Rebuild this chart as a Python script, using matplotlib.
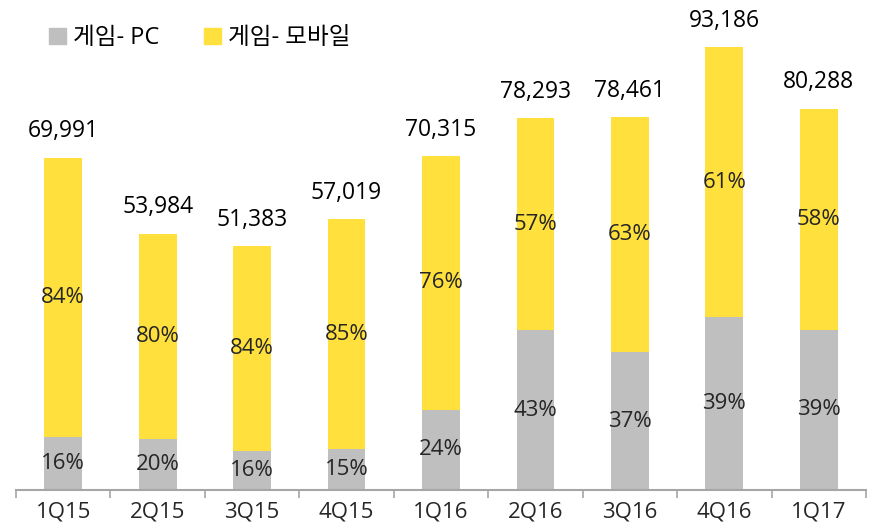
import matplotlib
matplotlib.use('Agg')
import matplotlib.pyplot as plt
import numpy as np
from matplotlib.patches import Patch

plt.rcParams['font.family'] = ['Open Sans', 'Noto Sans CJK KR', 'DejaVu Sans']

quarters = ['1Q15', '2Q15', '3Q15', '4Q15', '1Q16', '2Q16', '3Q16', '4Q16', '1Q17']
totals = [69991, 53984, 51383, 57019, 70315, 78293, 78461, 93186, 80288]
# PC values
pc_values = [11200, 10800, 8200, 8550, 16900, 33650, 29050, 36350, 33700]
pc_share = [16, 20, 16, 15, 24, 43, 37, 39, 39]
mobile_share = [84, 80, 84, 85, 76, 57, 63, 61, 58]

grey = '#BFBFBF'
yellow = '#FFE03C'

totals_arr = np.array(totals, dtype=float)
pc_vals = np.array(pc_values, dtype=float)
mobile_vals = totals_arr - pc_vals

fig = plt.figure(figsize=(8.79, 5.29), dpi=100)
ax = fig.add_axes([16 / 879, 39 / 529, 850 / 879, 475 / 529])

x = np.arange(len(quarters))
w = 0.4
ax.bar(x, pc_vals, w, color=grey)
ax.bar(x, mobile_vals, w, bottom=pc_vals, color=yellow)

for i in range(len(quarters)):
    ax.text(x[i], pc_vals[i] / 2, f'{pc_share[i]}%', ha='center', va='center',
            fontsize=16, color='#262626')
    ax.text(x[i], pc_vals[i] + mobile_vals[i] / 2, f'{mobile_share[i]}%', ha='center',
            va='center', fontsize=16, color='#262626')
    ax.text(x[i], totals_arr[i] + 3000, f'{totals[i]:,}', ha='center', va='bottom',
            fontsize=16.5, color='black', fontweight='medium')

ax.set_xlim(-0.5, len(quarters) - 0.5)
ax.set_ylim(0, 100000)
ax.set_yticks([])
for s in ['top', 'right', 'left']:
    ax.spines[s].set_visible(False)
ax.spines['bottom'].set_color('#A6A6A6')
ax.spines['bottom'].set_linewidth(1.5)

ax.set_xticks(x)
ax.set_xticklabels(quarters, fontsize=16, color='#262626')
ax.tick_params(axis='x', which='major', length=0, pad=8)
ax.set_xticks(np.arange(-0.5, len(quarters)), minor=True)
ax.tick_params(axis='x', which='minor', length=6, width=1.2, color='#A6A6A6', direction='out')

handles = [Patch(color=grey, label='게임- PC'), Patch(color=yellow, label='게임- 모바일')]
fig.legend(handles=handles, loc='center left', bbox_to_anchor=(0.032, 0.928), ncol=2,
           frameon=False, fontsize=17, handlelength=0.7, handleheight=0.7,
           handletextpad=0.3, columnspacing=1.9)

fig.savefig('out.png', dpi=100)
